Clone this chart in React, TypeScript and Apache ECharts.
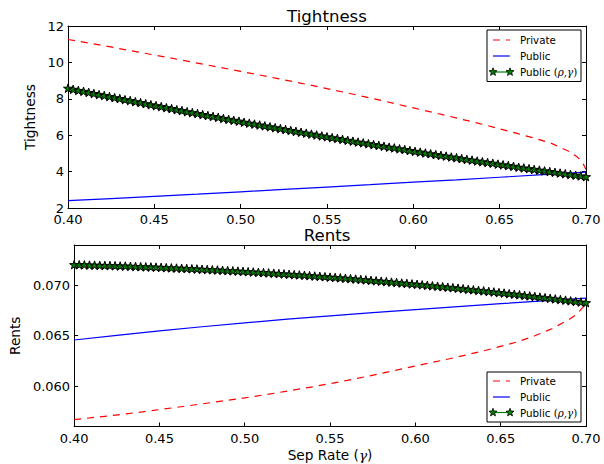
import React, { useEffect, useRef } from 'react';
import * as echarts from 'echarts';

// ---------- data ----------
const xTicks = [0.4, 0.45, 0.5, 0.55, 0.6, 0.65, 0.7];
const tightTicks = [2, 4, 6, 8, 10, 12];
const rentTicks = [0.06, 0.065, 0.07];

const redX = [0.40, 0.42, 0.44, 0.46, 0.48, 0.50, 0.52, 0.54, 0.56, 0.58, 0.60, 0.62, 0.64, 0.66, 0.67, 0.68, 0.69, 0.695, 0.698, 0.70];
const privateTight = [11.26, 10.93, 10.58, 10.23, 9.87, 9.51, 9.14, 8.76, 8.36, 7.94, 7.50, 7.06, 6.60, 6.10, 5.84, 5.55, 5.12, 4.80, 4.50, 4.12];
const privateRents = [0.05668, 0.05705, 0.05745, 0.05790, 0.05836, 0.05884, 0.05937, 0.05994, 0.06057, 0.06126, 0.06200, 0.06272, 0.06350, 0.06440, 0.06500, 0.06570, 0.06660, 0.06720, 0.06780, 0.06830];

const blueX = [0.40, 0.425, 0.45, 0.475, 0.50, 0.525, 0.55, 0.575, 0.60, 0.625, 0.65, 0.675, 0.70];
const publicTight = [2.40, 2.52, 2.64, 2.76, 2.89, 3.02, 3.15, 3.28, 3.42, 3.55, 3.69, 3.83, 3.97];
const publicRents = [0.06458, 0.06504, 0.06548, 0.06589, 0.06628, 0.06664, 0.06698, 0.06730, 0.06760, 0.06789, 0.06818, 0.06846, 0.06873];

const starTight = [
  8.58, 8.52, 8.46, 8.41, 8.35, 8.29, 8.23, 8.18, 8.12, 8.06,
  8.01, 7.95, 7.90, 7.84, 7.79, 7.73, 7.67, 7.62, 7.57, 7.51,
  7.46, 7.40, 7.35, 7.29, 7.24, 7.19, 7.13, 7.08, 7.03, 6.98,
  6.92, 6.87, 6.82, 6.77, 6.71, 6.66, 6.61, 6.56, 6.51, 6.46,
  6.41, 6.36, 6.31, 6.26, 6.21, 6.16, 6.11, 6.06, 6.01, 5.96,
  5.91, 5.86, 5.82, 5.77, 5.72, 5.67, 5.62, 5.58, 5.53, 5.48,
  5.44, 5.39, 5.34, 5.30, 5.25, 5.21, 5.16, 5.11, 5.07, 5.02,
  4.98, 4.93, 4.89, 4.85, 4.80, 4.76, 4.71, 4.67, 4.63, 4.58,
  4.54, 4.50, 4.46, 4.41, 4.37, 4.33, 4.29, 4.24, 4.20, 4.16,
  4.12, 4.08, 4.04, 4.00, 3.96, 3.92, 3.88, 3.84, 3.80, 3.76,
  3.72,
];
const starRents = [
  0.07205, 0.07204, 0.07203, 0.07201, 0.07200, 0.07198, 0.07197, 0.07196, 0.07194, 0.07192,
  0.07191, 0.07189, 0.07187, 0.07185, 0.07183, 0.07182, 0.07180, 0.07178, 0.07175, 0.07173,
  0.07171, 0.07169, 0.07167, 0.07164, 0.07162, 0.07159, 0.07157, 0.07154, 0.07152, 0.07149,
  0.07146, 0.07144, 0.07141, 0.07138, 0.07135, 0.07132, 0.07129, 0.07126, 0.07123, 0.07120,
  0.07116, 0.07113, 0.07110, 0.07106, 0.07103, 0.07100, 0.07096, 0.07092, 0.07089, 0.07085,
  0.07081, 0.07078, 0.07074, 0.07070, 0.07066, 0.07062, 0.07058, 0.07054, 0.07049, 0.07045,
  0.07041, 0.07037, 0.07032, 0.07028, 0.07023, 0.07019, 0.07014, 0.07010, 0.07005, 0.07000,
  0.06995, 0.06991, 0.06986, 0.06981, 0.06976, 0.06971, 0.06966, 0.06960, 0.06955, 0.06950,
  0.06945, 0.06939, 0.06934, 0.06928, 0.06923, 0.06917, 0.06912, 0.06906, 0.06900, 0.06895,
  0.06889, 0.06883, 0.06877, 0.06871, 0.06865, 0.06859, 0.06853, 0.06846, 0.06840, 0.06834,
  0.06828,
];
// sampling grid of the star series: 101 points from 0.40 to 0.70
const starX = starTight.map((_, i) => Math.round((0.4 + i * 0.003) * 1000) / 1000);

const legendNames = ['Private', 'Public', 'Public (ρ,γ)'];

// ---------- styling ----------
const FONT = 'DejaVu Sans';
const RED = '#ff0000';
const BLUE = '#0000ff';
const GREEN = '#008000';
const STAR = 'path://M50 0L61.2 34.5L97.6 34.5L68.2 55.9L79.4 90.5L50 69.1L20.6 90.5L31.8 55.9L2.4 34.5L38.8 34.5Z';

const zip = (xs: number[], ys: number[]) => ys.map((y, i) => [xs[i], y]);

function starPts(cx: number, cy: number, R: number, r: number) {
  const pts: number[][] = [];
  for (let k = 0; k < 10; k++) {
    const a = -Math.PI / 2 + (k * Math.PI) / 5;
    const rad = k % 2 ? r : R;
    pts.push([cx + rad * Math.cos(a), cy + rad * Math.sin(a)]);
  }
  return pts;
}

function xAxis(gridIndex: number, position: string, showLabel: boolean, name?: string) {
  return {
    type: 'value',
    gridIndex,
    position,
    min: 0.4,
    max: 0.7,
    axisLine: { show: true, onZero: false, lineStyle: { color: '#000', width: 1 } },
    axisTick: { show: true, inside: true, length: 4, customValues: xTicks, lineStyle: { color: '#000', width: 1 } },
    axisLabel: {
      show: showLabel,
      customValues: xTicks,
      color: '#000',
      fontFamily: FONT,
      fontSize: 13,
      margin: 5,
      formatter: (v: number) => v.toFixed(2),
    },
    splitLine: { show: false },
    name: name || '',
    nameLocation: 'middle',
    nameGap: 21,
    nameTextStyle: {
      color: '#000',
      fontFamily: FONT,
      fontSize: 13.7,
      rich: { g: { fontFamily: 'DejaVu Serif', fontStyle: 'italic', fontSize: 13.7, color: '#000' } },
    },
  };
}

function yAxis(gridIndex: number, position: string, showLabel: boolean, min: number, max: number, ticks: number[], fmt: (v: number) => string, name?: string, gap?: number) {
  return {
    type: 'value',
    gridIndex,
    position,
    min,
    max,
    axisLine: { show: true, onZero: false, lineStyle: { color: '#000', width: 1 } },
    axisTick: { show: true, inside: true, length: 4, customValues: ticks, lineStyle: { color: '#000', width: 1 } },
    axisLabel: {
      show: showLabel,
      customValues: ticks,
      color: '#000',
      fontFamily: FONT,
      fontSize: 13,
      margin: 4,
      formatter: fmt,
    },
    splitLine: { show: false },
    name: name || '',
    nameLocation: 'middle',
    nameGap: gap || 0,
    nameTextStyle: { color: '#000', fontFamily: FONT, fontSize: 13.7 },
  };
}

function legendGraphics(top: number, rowYs: number[]) {
  const els: any[] = [];
  els.push({
    type: 'rect',
    shape: { x: 487, y: top, width: 94, height: rowYs[2] - top + 9.5 },
    style: { fill: '#fff', stroke: '#000', lineWidth: 1 },
    z: 100,
  });
  const x1 = 493;
  const x2 = 510;
  els.push({ type: 'line', shape: { x1, y1: rowYs[0], x2, y2: rowYs[0] }, style: { stroke: RED, lineWidth: 1.2, lineDash: [7, 6] }, z: 101 });
  els.push({ type: 'line', shape: { x1, y1: rowYs[1], x2, y2: rowYs[1] }, style: { stroke: BLUE, lineWidth: 1.2 }, z: 101 });
  els.push({ type: 'line', shape: { x1, y1: rowYs[2], x2, y2: rowYs[2] }, style: { stroke: GREEN, lineWidth: 1.2 }, z: 101 });
  [x1, x2].forEach((cx) =>
    els.push({ type: 'polygon', shape: { points: starPts(cx, rowYs[2], 4.2, 1.8) }, style: { fill: GREEN, stroke: '#000', lineWidth: 0.8 }, z: 102 })
  );
  const textStyle = { fill: '#000', fontFamily: FONT, fontSize: 10.3, verticalAlign: 'middle', align: 'left' };
  els.push({ type: 'text', x: 520, y: rowYs[0], style: { ...textStyle, text: legendNames[0] }, z: 103 });
  els.push({ type: 'text', x: 520, y: rowYs[1], style: { ...textStyle, text: legendNames[1] }, z: 103 });
  els.push({
    type: 'text',
    x: 520,
    y: rowYs[2],
    style: {
      ...textStyle,
      text: 'Public {p|(}{m|ρ,γ}{p|)}',
      rich: {
        p: { fontFamily: 'DejaVu Serif', fontSize: 10.3, fill: '#000' },
        m: { fontFamily: 'DejaVu Serif', fontStyle: 'italic', fontSize: 10.3, fill: '#000' },
      },
    },
    z: 103,
  });
  return els;
}

export default function App() {
  const ref = useRef<HTMLDivElement>(null);

  useEffect(() => {
    if (!ref.current) return;
    const chart = echarts.init(ref.current, undefined, { renderer: 'svg' });

    const lineBase = { type: 'line', showSymbol: false, symbol: 'none', silent: true, emphasis: { disabled: true } };
    const starBase = {
      type: 'line',
      symbol: STAR,
      symbolSize: 9,
      symbolKeepAspect: true,
      showSymbol: true,
      silent: true,
      emphasis: { disabled: true },
      lineStyle: { color: GREEN, width: 1.2 },
      itemStyle: { color: GREEN, borderColor: '#000', borderWidth: 1 },
    };

    const option: any = {
      animation: false,
      backgroundColor: '#fff',
      grid: [
        { left: 68, top: 26, width: 518, height: 182 },
        { left: 68, top: 245, width: 518, height: 181.5 },
      ],
      xAxis: [
        xAxis(0, 'bottom', true),
        xAxis(0, 'top', false),
        xAxis(1, 'bottom', true, 'Sep Rate ({g|γ})'),
        xAxis(1, 'top', false),
      ],
      yAxis: [
        yAxis(0, 'left', true, 2, 12, tightTicks, (v) => String(v), 'Tightness', 26),
        yAxis(0, 'right', false, 2, 12, tightTicks, (v) => String(v)),
        yAxis(1, 'left', true, 0.056, 0.074, rentTicks, (v) => v.toFixed(3), 'Rents', 49),
        yAxis(1, 'right', false, 0.056, 0.074, rentTicks, (v) => v.toFixed(3)),
      ],
      series: [
        { ...lineBase, name: legendNames[0], xAxisIndex: 0, yAxisIndex: 0, data: zip(redX, privateTight), lineStyle: { color: RED, width: 1.2, type: [7, 6] } },
        { ...lineBase, name: legendNames[1], xAxisIndex: 0, yAxisIndex: 0, data: zip(blueX, publicTight), lineStyle: { color: BLUE, width: 1.2 } },
        { ...starBase, name: legendNames[2], xAxisIndex: 0, yAxisIndex: 0, data: zip(starX, starTight) },
        { ...lineBase, name: legendNames[0], xAxisIndex: 2, yAxisIndex: 2, data: zip(redX, privateRents), lineStyle: { color: RED, width: 1.2, type: [7, 6] } },
        { ...lineBase, name: legendNames[1], xAxisIndex: 2, yAxisIndex: 2, data: zip(blueX, publicRents), lineStyle: { color: BLUE, width: 1.2 } },
        { ...starBase, name: legendNames[2], xAxisIndex: 2, yAxisIndex: 2, data: zip(starX, starRents) },
      ],
      graphic: [
        { type: 'text', x: 327, y: 16, style: { text: 'Tightness', fill: '#000', fontFamily: FONT, fontSize: 16.6, align: 'center', verticalAlign: 'middle' } },
        { type: 'text', x: 327, y: 235, style: { text: 'Rents', fill: '#000', fontFamily: FONT, fontSize: 16.6, align: 'center', verticalAlign: 'middle' } },
        ...legendGraphics(30, [40, 56, 72]),
        ...legendGraphics(372, [381, 397, 412.5]),
      ],
    };

    chart.setOption(option);
    return () => chart.dispose();
  }, []);

  return (
    <div
      ref={ref}
      style={{ position: 'absolute', left: 0, top: 0, width: 604, height: 464, background: '#fff' }}
    />
  );
}
